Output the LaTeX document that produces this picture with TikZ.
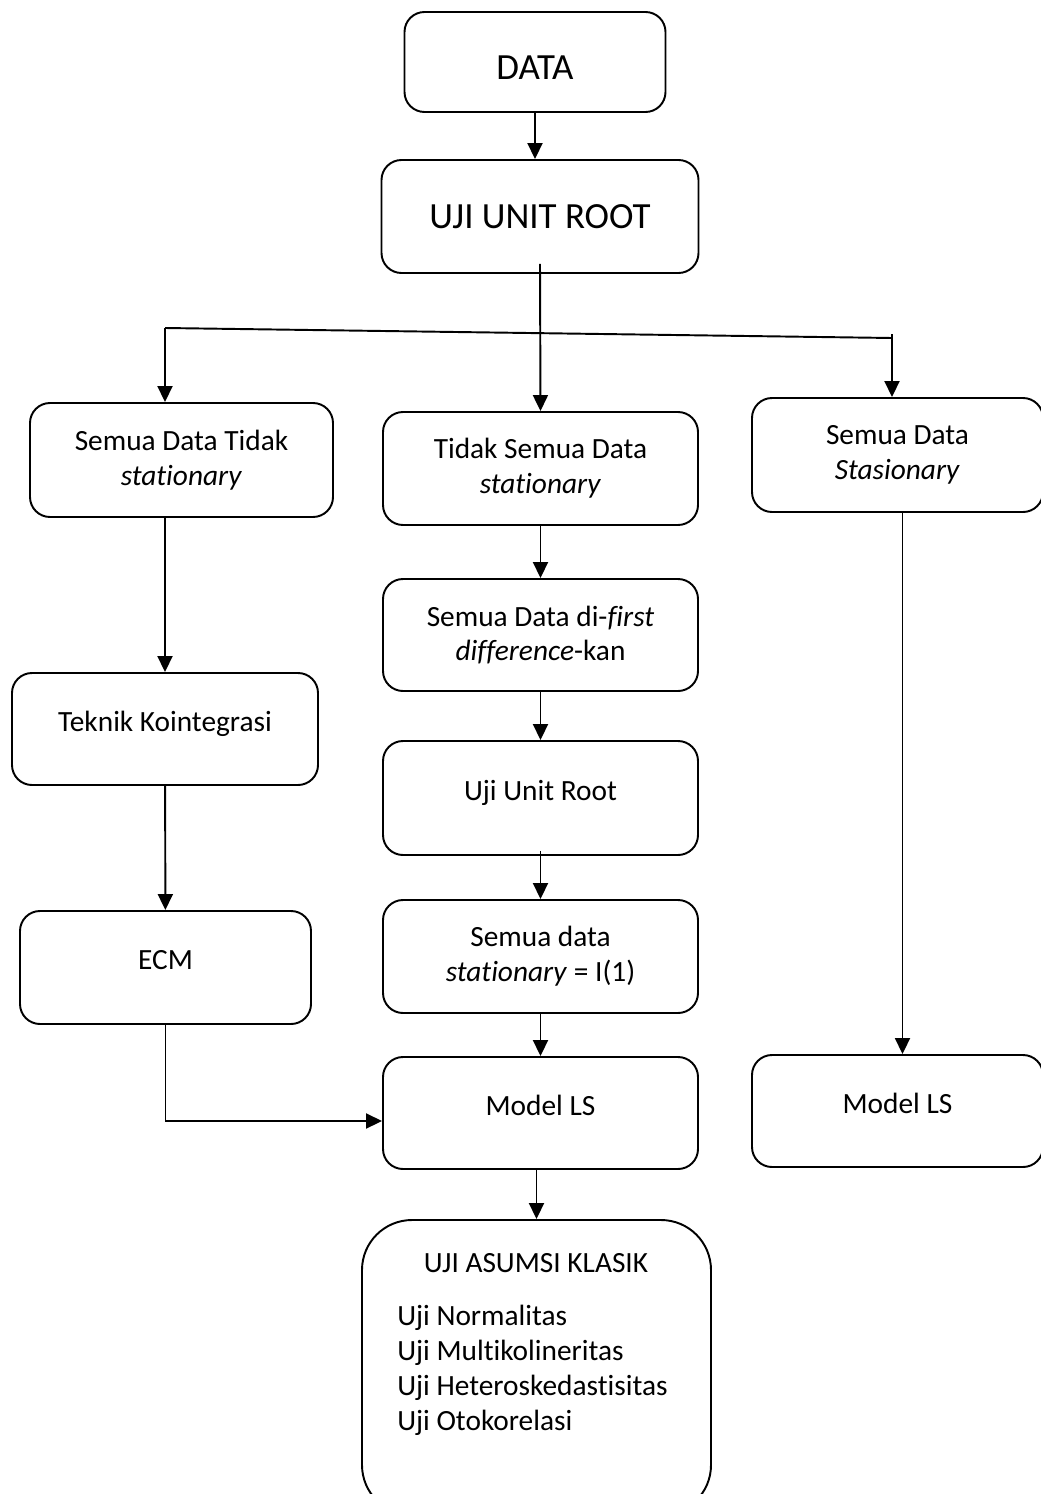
\documentclass[tikz,border=0pt]{standalone}
\usepackage{fontspec}
\setmainfont{Carlito}[Ligatures={NoCommon,NoContextual}]
\usepackage{tikz}
\usetikzlibrary{calc,arrows.meta}

\tikzset{
  flowbox/.style={draw, rounded corners=0.4cm, line width=1.1pt, align=center,
    inner sep=0pt, font=\fontsize{16.7}{19.8}\selectfont},
  bigbox/.style={flowbox, font=\fontsize{21}{24}\selectfont},
  raised/.style={text depth=0.3cm},
  arr/.style={line width=1.1pt, -{Triangle[length=0.32cm,width=0.3cm]}},
}

\begin{document}
\begin{tikzpicture}
\useasboundingbox (0,0) rectangle (20.82,-29.88);

% Top
\node[bigbox, text height=0.72cm, minimum width=5.22cm, minimum height=2cm] (data) at (10.7,-1.24) {DATA};
\node[bigbox, minimum width=6.34cm, minimum height=2.26cm] (ujiroot) at (10.8,-4.33) {UJI UNIT ROOT};

% Three branches
\node[flowbox, minimum width=6.06cm, minimum height=2.28cm] (semuatidak) at (3.63,-9.2)
  {Semua Data Tidak\\\textit{stationary}};
\node[flowbox, minimum width=6.3cm, minimum height=2.26cm] (tidak) at (10.81,-9.37)
  {Tidak Semua Data\\\textit{stationary}};
\node[flowbox, minimum width=5.82cm, minimum height=2.28cm] (stasioner) at (17.95,-9.1)
  {Semua Data\\\textit{Stasionary}};

% Left column
\node[flowbox, raised, minimum width=6.12cm, minimum height=2.24cm] (teknik) at (3.3,-14.58) {Teknik Kointegrasi};
\node[flowbox, raised, minimum width=5.82cm, minimum height=2.26cm] (ecm) at (3.31,-19.35) {ECM};

% Middle column
\node[flowbox, minimum width=6.3cm, minimum height=2.24cm] (firstdiff) at (10.81,-12.7)
  {Semua Data di-\textit{first}\\\textit{difference}-kan};
\node[flowbox, raised, minimum width=6.3cm, minimum height=2.28cm] (ujiunit) at (10.81,-15.96) {Uji Unit Root};
\node[flowbox, minimum width=6.3cm, minimum height=2.26cm] (statone) at (10.81,-19.13)
  {Semua data\\\textit{stationary} = I(1)};
\node[flowbox, raised, minimum width=6.3cm, minimum height=2.24cm] (modells) at (10.81,-22.26) {Model LS};

% Right column
\node[flowbox, raised, minimum width=5.82cm, minimum height=2.24cm] (modellsR) at (17.95,-22.22) {Model LS};

% Classical assumption tests
\node[draw, rounded corners=1cm, line width=1.1pt, minimum width=6.98cm, minimum height=5.9cm] (asumsi) at (10.73,-27.35) {};
\node[font=\fontsize{16.7}{19.8}\selectfont, inner sep=0pt] (asumsititle) at (10.72,-25.26) {UJI ASUMSI KLASIK};
\node[font=\fontsize{16.7}{19.8}\selectfont, inner sep=0pt, align=left, anchor=north west] (asumsilist) at (7.94,-26.1)
  {Uji Normalitas\\Uji Multikolineritas\\Uji Heteroskedastisitas\\Uji Otokorelasi};

% Arrows
\draw[arr] (data.south) -- (data.south |- ujiroot.north);
\draw[arr] ($(ujiroot.south)+(0,0.2)$) -- (tidak.north);
\coordinate (brL) at (3.3,-6.56);
\coordinate (brR) at (17.84,-6.76);
\draw[line width=1.1pt] (brL) -- (brR);
\draw[arr] (brL) -- (brL |- semuatidak.north);
\draw[arr] ($(brR)+(0,0.08)$) -- (brR |- stasioner.north);

\draw[arr] (tidak) -- (firstdiff);
\draw[arr] (firstdiff) -- (ujiunit);
\draw[arr] ($(ujiunit.south)+(0,0.1)$) -- (statone.north);
\draw[arr] (statone) -- (modells);
\draw[arr] (asumsi.north |- modells.south) -- (asumsi.north);

\draw[arr] (teknik.north |- semuatidak.south) -- (teknik.north);
\draw[arr] (teknik) -- (ecm);
\draw[arr] (ecm.south) |- ($(modells.west)+(0,-0.16)$);

\draw[arr] ([xshift=0.1cm]stasioner.south) -- ([xshift=0.1cm]modellsR.north);
\end{tikzpicture}
\end{document}
